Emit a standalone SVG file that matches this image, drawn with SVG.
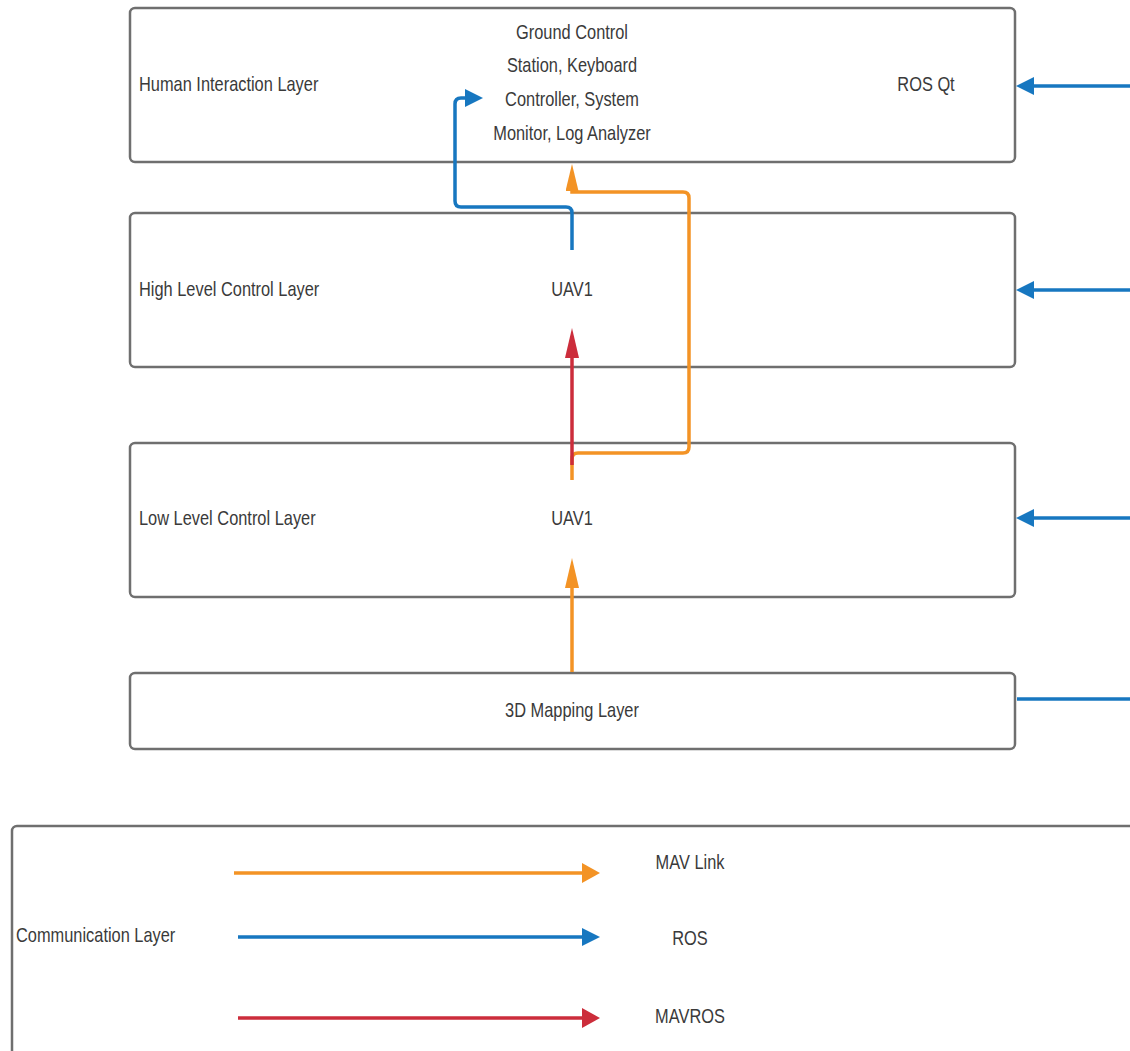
<svg xmlns="http://www.w3.org/2000/svg" width="1130" height="1051" viewBox="0 0 1130 1051">
<style>
.box{fill:#fff;stroke:#6f6f6f;stroke-width:2.5}
.t{font-family:"Liberation Sans",Arial,sans-serif;font-size:20px;fill:#3a3a3a}
.c{text-anchor:middle}
.or{fill:none;stroke:#F39325;stroke-width:3.5}
.bl{fill:none;stroke:#1777C0;stroke-width:3.5}
.rd{fill:none;stroke:#CC2D3B;stroke-width:3.5}
</style>
<defs>
<marker id="hb" markerUnits="userSpaceOnUse" viewBox="0 0 18 18" markerWidth="18" markerHeight="18" refX="0" refY="9" orient="auto"><path d="M0,0L18,9L0,18z" fill="#1777C0"/></marker>
<marker id="ho" markerUnits="userSpaceOnUse" viewBox="0 0 18 20" markerWidth="18" markerHeight="20" refX="0" refY="10" orient="auto"><path d="M0,0L18,10L0,20z" fill="#F39325"/></marker>
<marker id="hr" markerUnits="userSpaceOnUse" viewBox="0 0 18 20" markerWidth="18" markerHeight="20" refX="0" refY="10" orient="auto"><path d="M0,0L18,10L0,20z" fill="#CC2D3B"/></marker>
<marker id="vo" markerUnits="userSpaceOnUse" viewBox="0 0 30 14" markerWidth="30" markerHeight="14" refX="0" refY="7" orient="auto"><path d="M0,0L30,7L0,14z" fill="#F39325"/></marker>
<marker id="vo2" markerUnits="userSpaceOnUse" viewBox="0 0 27 13" markerWidth="27" markerHeight="13" refX="0" refY="6.5" orient="auto"><path d="M0,0L27,6.5L0,13z" fill="#F39325"/></marker>
<marker id="vr" markerUnits="userSpaceOnUse" viewBox="0 0 30 14" markerWidth="30" markerHeight="14" refX="0" refY="7" orient="auto"><path d="M0,0L30,7L0,14z" fill="#CC2D3B"/></marker>
</defs>
<rect width="1130" height="1051" fill="#fff"/>
<g id="human-layer">
<rect class="box" x="130" y="8" width="885" height="154" rx="5"/>
<text class="t" transform="translate(139,91) scale(0.82,1)">Human Interaction Layer</text>
<text class="t c" transform="translate(572,39) scale(0.82,1)">Ground Control</text>
<text class="t c" transform="translate(572,72) scale(0.82,1)">Station, Keyboard</text>
<text class="t c" transform="translate(572,106) scale(0.82,1)">Controller, System</text>
<text class="t c" transform="translate(572,140) scale(0.82,1)">Monitor, Log Analyzer</text>
<text class="t c" transform="translate(926,91) scale(0.82,1)">ROS Qt</text>
</g>
<g id="high-layer">
<rect class="box" x="130" y="213" width="885" height="154" rx="5"/>
<text class="t" transform="translate(139,296) scale(0.82,1)">High Level Control Layer</text>
<text class="t c" transform="translate(572,296) scale(0.82,1)">UAV1</text>
</g>
<g id="low-layer">
<rect class="box" x="130" y="443" width="885" height="154" rx="5"/>
<text class="t" transform="translate(139,525) scale(0.82,1)">Low Level Control Layer</text>
<text class="t c" transform="translate(572,525) scale(0.82,1)">UAV1</text>
</g>
<g id="mapping-layer">
<rect class="box" x="130" y="673" width="885" height="76" rx="5"/>
<text class="t c" transform="translate(572,717) scale(0.82,1)">3D Mapping Layer</text>
</g>
<g id="communication-layer">
<rect class="box" x="12" y="826" width="1130" height="240" rx="5"/>
<text class="t" transform="translate(16,942) scale(0.82,1)">Communication Layer</text>
<text class="t c" transform="translate(690,869) scale(0.82,1)">MAV Link</text>
<text class="t c" transform="translate(690,945) scale(0.82,1)">ROS</text>
<text class="t c" transform="translate(690,1023) scale(0.82,1)">MAVROS</text>
</g>
<g id="connectors">
<path class="bl" d="M572,250V213Q572,207 566,207H461Q455,207 455,201V104Q455,98 461,98H465" marker-end="url(#hb)"/>
<path class="or" d="M572,480V459Q572,453 578,453H683Q689,453 689,447V198Q689,192 683,192H572V191" marker-end="url(#vo2)"/>
<path class="rd" d="M572,465V358" marker-end="url(#vr)"/>
<path class="or" d="M572,672V588" marker-end="url(#vo)"/>
<path class="bl" d="M1132,86H1034" marker-end="url(#hb)"/>
<path class="bl" d="M1132,290H1034" marker-end="url(#hb)"/>
<path class="bl" d="M1132,518H1034" marker-end="url(#hb)"/>
<path class="bl" d="M1132,699H1017"/>
<path class="or" d="M234,873H582" marker-end="url(#ho)"/>
<path class="bl" d="M238,937H582" marker-end="url(#hb)"/>
<path class="rd" d="M238,1018H582" marker-end="url(#hr)"/>
</g>
</svg>
